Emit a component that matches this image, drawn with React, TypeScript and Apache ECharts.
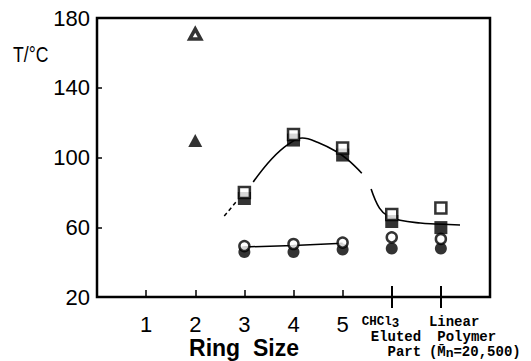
import React, { useEffect, useRef } from 'react';
import * as echarts from 'echarts';

// ---- data ----
const xTickValues = [1, 2, 3, 4, 5, 6, 7];
const mainLabelValues = [1, 2, 3, 4, 5, 6];
const yTickValues = [20, 60, 100, 140, 180];
const longTickValues = [6, 7];
const linearPolymerX = 7;

const ringX = [3, 4, 5, 6, 7];
const triangleX = [2];
const openTriangle = [170.8];
const filledTriangle = [109.7];
const openSquare = [80, 113.2, 105.4, 67.3, 71];
const filledSquare = [76.5, 110, 101.4, 63.3, 59.8];
const openCircle = [49.2, 50.4, 51.2, 54.2, 53.3];
const filledCircle = [45.8, 45.8, 47.2, 47.8, 47.8];

const curveDashedX = [2.59, 2.83];
const curveDashedY = [66.4, 74.5];
const curveAX = [3.18, 3.55, 3.89, 4.18, 4.5, 4.88, 5.11, 5.39];
const curveAY = [86, 99, 107.5, 111.2, 108.6, 103.3, 98.6, 91];
const curveBX = [5.58, 5.75, 5.92, 6.17, 6.58, 6.88, 7.39];
const curveBY = [82, 71, 66.5, 64, 62.4, 61.9, 61.3];
const circleLineX = [3, 4, 5];
const circleLineY = [48.7, 49.6, 50.8];

const pair = (xs: number[], ys: number[]) => xs.map((x, i) => [x, ys[i]]);

const label6 = '{c|CHCl}{s|3}{c|   }\n{m| Eluted}\n{m|   Part}';
const label7 = '{m|Linear}\n{m| Polymer}\n{m|(M\u0304}{s|n}{m|=20,500)}';

const xLabel = (v: number) => {
  if (v >= 1 && v <= 5) return String(v);
  if (v === 6) return label6;
  return '';
};

export default function App() {
  const ref = useRef<HTMLDivElement>(null);
  useEffect(() => {
    if (!ref.current) return;
    const chart = echarts.init(ref.current, null, { renderer: 'svg' });
    const black = '#000';
    const sans = 'Liberation Sans';
    const mono = 'Liberation Mono';
    const baseX = { type: 'value', min: 0, max: 8, interval: 1, position: 'bottom', gridIndex: 0 };
    const rich = {
      m: { fontFamily: mono, fontWeight: 'bold', fontSize: 14, lineHeight: 15, color: black },
      c: { fontFamily: mono, fontWeight: 'bold', fontSize: 12.5, lineHeight: 15, color: black },
      s: { fontFamily: mono, fontWeight: 'bold', fontSize: 12.5, lineHeight: 15, padding: [4, 0, 0, 0], color: black },
    };
    const richG = {
      m: { fontFamily: mono, fontWeight: 'bold', fontSize: 14, lineHeight: 15, fill: black },
      s: { fontFamily: mono, fontWeight: 'bold', fontSize: 13, lineHeight: 15, padding: [4, 0, 0, 0], fill: black },
    };
    chart.setOption({
      animation: false,
      backgroundColor: '#fff',
      grid: { left: 97, right: 41, top: 18, bottom: 64, show: true, borderColor: black, borderWidth: 2.5, backgroundColor: 'transparent' },
      xAxis: [
        {
          ...baseX,
          axisLine: { show: false },
          splitLine: { show: false },
          axisTick: { show: true, inside: true, length: 7, lineStyle: { color: black, width: 1.5 }, customValues: xTickValues },
          axisLabel: {
            show: true,
            customValues: mainLabelValues,
            formatter: xLabel,
            color: black,
            fontFamily: sans,
            fontSize: 22,
            lineHeight: 20,
            margin: 17,
            rich,
          },
        },
        {
          ...baseX,
          axisLine: { show: false },
          splitLine: { show: false },
          axisLabel: { show: false },
          axisTick: { show: true, inside: true, length: 11, lineStyle: { color: black, width: 2 }, customValues: longTickValues },
        },
        {
          ...baseX,
          axisLine: { show: false },
          splitLine: { show: false },
          axisLabel: { show: false },
          axisTick: { show: true, inside: false, length: 11, lineStyle: { color: black, width: 2 }, customValues: longTickValues },
        },
      ],
      yAxis: [
        {
          type: 'value',
          min: 20,
          max: 180,
          interval: 40,
          position: 'left',
          axisLine: { show: false },
          splitLine: { show: false },
          axisTick: { show: true, inside: true, length: 5, lineStyle: { color: black, width: 1.5 }, customValues: yTickValues },
          axisLabel: { show: true, color: black, fontFamily: sans, fontSize: 22, margin: 7, showMinLabel: true, showMaxLabel: true },
        },
      ],
      series: [
        {
          type: 'line', xAxisIndex: 0, data: pair(curveDashedX, curveDashedY), symbol: 'none',
          lineStyle: { color: black, width: 1.5, type: [4, 3] }, z: 2,
        },
        {
          type: 'line', xAxisIndex: 0, data: pair(curveAX, curveAY), symbol: 'none', smooth: 0.4,
          lineStyle: { color: black, width: 1.6 }, z: 2,
        },
        {
          type: 'line', xAxisIndex: 0, data: pair(curveBX, curveBY), symbol: 'none', smooth: 0.4,
          lineStyle: { color: black, width: 1.6 }, z: 2,
        },
        {
          type: 'line', xAxisIndex: 0, data: pair(circleLineX, circleLineY), symbol: 'none',
          lineStyle: { color: black, width: 1.5 }, z: 2,
        },
        {
          type: 'scatter', xAxisIndex: 0, data: pair(triangleX, filledTriangle), symbol: 'triangle', symbolSize: [14, 13],
          itemStyle: { color: black }, z: 3,
        },
        {
          type: 'scatter', xAxisIndex: 0, data: pair(triangleX, openTriangle), symbol: 'triangle', symbolSize: [11, 10],
          itemStyle: { color: '#fff', borderColor: black, borderWidth: 3.5 }, z: 4,
        },
        {
          type: 'scatter', xAxisIndex: 0, data: pair(ringX, filledSquare), symbol: 'rect', symbolSize: 13,
          itemStyle: { color: black }, z: 3,
        },
        {
          type: 'scatter', xAxisIndex: 0, data: pair(ringX, openSquare), symbol: 'rect', symbolSize: 11,
          itemStyle: { color: '#fff', borderColor: black, borderWidth: 2.5 }, z: 4,
        },
        {
          type: 'scatter', xAxisIndex: 0, data: pair(ringX, filledCircle), symbol: 'circle', symbolSize: 12,
          itemStyle: { color: black }, z: 3,
        },
        {
          type: 'scatter', xAxisIndex: 0, data: pair(ringX, openCircle), symbol: 'circle', symbolSize: 10,
          itemStyle: { color: '#fff', borderColor: black, borderWidth: 2.5 }, z: 4,
        },
      ],
    });
    const p = chart.convertToPixel({ gridIndex: 0 }, [linearPolymerX, 20]) as number[];
    chart.setOption({
      graphic: [
        {
          id: 'yname',
          type: 'text',
          x: 13,
          y: 54,
          scaleX: 0.8,
          style: { text: 'T/°C', fill: black, font: '22px "Liberation Sans"', textAlign: 'left', textVerticalAlign: 'middle' },
        },
        {
          id: 'xname',
          type: 'text',
          x: 244,
          y: 348,
          style: { text: 'Ring  Size', fill: black, font: 'bold 23px "Liberation Sans"', textAlign: 'center', textVerticalAlign: 'middle' },
        },
        {
          id: 'label7',
          type: 'text',
          x: p[0] - 12,
          y: p[1] + 17,
          style: {
            text: label7,
            rich: richG,
            fill: black,
            font: 'bold 14px "Liberation Mono"',
            textAlign: 'left',
            textVerticalAlign: 'top',
          },
        },
      ],
    });
    return () => chart.dispose();
  }, []);
  return <div ref={ref} style={{ position: 'fixed', left: 0, top: 0, width: 531, height: 361 }} />;
}
